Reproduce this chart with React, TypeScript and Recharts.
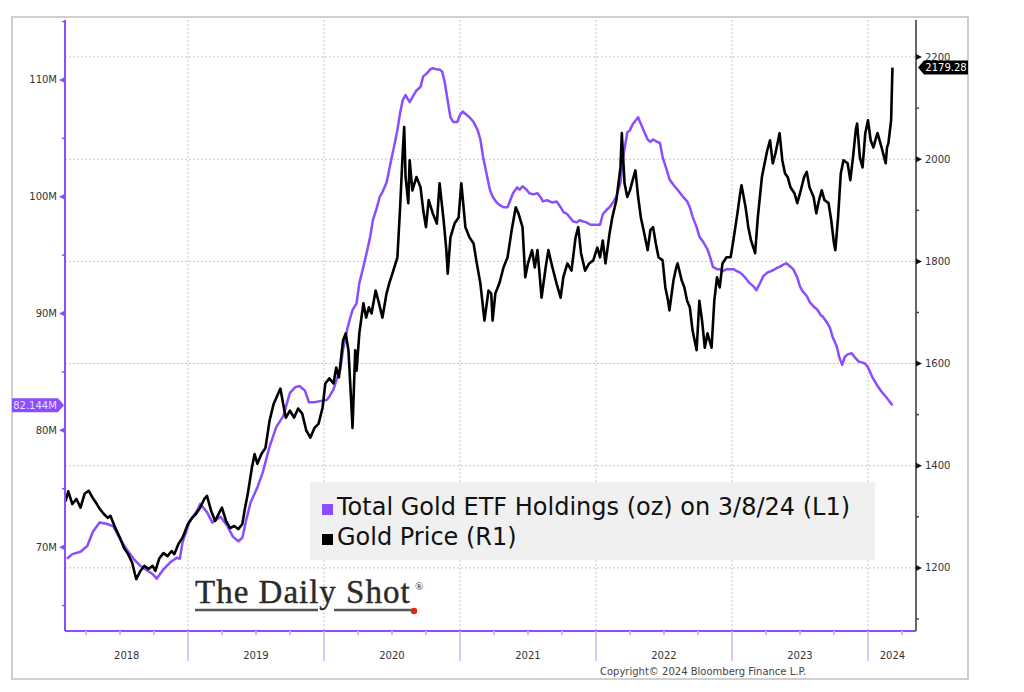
import { LineChart, Line, XAxis, YAxis, CartesianGrid, Legend } from 'recharts';

const PURPLE = '#8a4dff';
const PURPLE_LIGHT = '#c9b3ff';
const INK = '#333';
const FONT = '"DejaVu Sans", Verdana, sans-serif';

// Gold price (R1), USD/oz, time as decimal year
const goldT = [
  2018.10, 2018.12, 2018.15, 2018.18, 2018.21, 2018.24, 2018.27, 2018.30, 2018.33, 2018.35,
  2018.38, 2018.41, 2018.43, 2018.46, 2018.50, 2018.53, 2018.56, 2018.59, 2018.61, 2018.62,
  2018.65, 2018.68, 2018.71, 2018.74, 2018.76, 2018.79, 2018.82, 2018.85, 2018.88, 2018.90,
  2018.93, 2018.96, 2019.00, 2019.03, 2019.06, 2019.09, 2019.12, 2019.14, 2019.17, 2019.20,
  2019.23, 2019.25, 2019.28, 2019.31, 2019.34, 2019.37, 2019.40, 2019.42, 2019.44, 2019.47,
  2019.49, 2019.51, 2019.54, 2019.57, 2019.60, 2019.63, 2019.65, 2019.68, 2019.70, 2019.72,
  2019.75, 2019.78, 2019.81, 2019.84, 2019.87, 2019.90, 2019.93, 2019.96, 2019.99, 2020.01,
  2020.04, 2020.07, 2020.09, 2020.11, 2020.14, 2020.16, 2020.18, 2020.20, 2020.21, 2020.23,
  2020.24, 2020.26, 2020.29, 2020.31, 2020.33, 2020.35, 2020.38, 2020.40, 2020.43, 2020.46,
  2020.48, 2020.51, 2020.54, 2020.56, 2020.58, 2020.59, 2020.60, 2020.62, 2020.63, 2020.65,
  2020.68, 2020.71, 2020.73, 2020.75, 2020.77, 2020.80, 2020.83, 2020.85, 2020.88, 2020.90,
  2020.91, 2020.93, 2020.96, 2020.99, 2021.01, 2021.04, 2021.07, 2021.10, 2021.12, 2021.15,
  2021.18, 2021.21, 2021.23, 2021.24, 2021.26, 2021.29, 2021.32, 2021.35, 2021.38, 2021.41,
  2021.43, 2021.46, 2021.48, 2021.50, 2021.53, 2021.55, 2021.57, 2021.60, 2021.63, 2021.65,
  2021.68, 2021.71, 2021.74, 2021.76, 2021.79, 2021.82, 2021.85, 2021.87, 2021.89, 2021.92,
  2021.95, 2021.98, 2022.01, 2022.03, 2022.05, 2022.07, 2022.10, 2022.12, 2022.15, 2022.18,
  2022.19, 2022.21, 2022.23, 2022.25, 2022.27, 2022.29, 2022.31, 2022.33, 2022.35, 2022.38,
  2022.40, 2022.42, 2022.44, 2022.46, 2022.49, 2022.51, 2022.53, 2022.54, 2022.57, 2022.59,
  2022.60, 2022.63, 2022.65, 2022.67, 2022.69, 2022.71, 2022.74, 2022.76, 2022.78, 2022.80,
  2022.82, 2022.85, 2022.87, 2022.89, 2022.91, 2022.93, 2022.96, 2022.99, 2023.01, 2023.04,
  2023.06, 2023.07, 2023.10, 2023.12, 2023.14, 2023.17, 2023.19, 2023.22, 2023.24, 2023.26,
  2023.28, 2023.30, 2023.32, 2023.35, 2023.37, 2023.39, 2023.41, 2023.43, 2023.46, 2023.48,
  2023.50, 2023.53, 2023.55, 2023.57, 2023.60, 2023.62, 2023.64, 2023.66, 2023.68, 2023.71,
  2023.73, 2023.75, 2023.76, 2023.78, 2023.80, 2023.82, 2023.85, 2023.87, 2023.89, 2023.91,
  2023.92, 2023.94, 2023.96, 2023.98, 2024.00, 2024.02, 2024.04, 2024.06, 2024.07, 2024.10,
  2024.13, 2024.14, 2024.15, 2024.17, 2024.18,
];
const goldPx = [
  1330, 1350, 1325, 1335, 1318, 1345, 1351, 1337, 1325, 1316,
  1306, 1298, 1302, 1282, 1259, 1239, 1227, 1210, 1188, 1178,
  1194, 1204, 1198, 1204, 1194, 1219, 1229, 1223, 1233, 1227,
  1247, 1259, 1286, 1298, 1306, 1318, 1335, 1341, 1312, 1292,
  1308, 1318, 1292, 1278, 1282, 1276, 1286, 1318, 1345, 1396,
  1423, 1404, 1423, 1435, 1488, 1521, 1533, 1551, 1521, 1494,
  1508, 1494, 1512, 1502, 1469, 1455, 1474, 1482, 1514, 1561,
  1571, 1561, 1592, 1573, 1645, 1659, 1626, 1527, 1474, 1626,
  1586, 1659, 1718, 1690, 1710, 1698, 1743, 1723, 1690, 1737,
  1757, 1782, 1808, 1906, 2018, 2063, 1965, 1914, 1998, 1939,
  1965, 1945, 1900, 1867, 1920, 1894, 1874, 1953, 1880, 1822,
  1776, 1847, 1874, 1886, 1953, 1867, 1847, 1835, 1802, 1757,
  1684, 1743, 1737, 1684, 1737, 1757, 1788, 1808, 1861, 1906,
  1894, 1867, 1769, 1796, 1822, 1788, 1822, 1729, 1788, 1822,
  1788, 1757, 1729, 1769, 1796, 1782, 1847, 1867, 1816, 1782,
  1796, 1802, 1827, 1808, 1841, 1796, 1855, 1886, 1920, 1984,
  2051, 1953, 1926, 1939, 1959, 1978, 1926, 1886, 1861, 1822,
  1861, 1867, 1835, 1808, 1802, 1749, 1723, 1704, 1763, 1788,
  1796, 1763, 1749, 1723, 1710, 1665, 1626, 1723, 1684, 1631,
  1659, 1631, 1723, 1769, 1749, 1796, 1808, 1808, 1841, 1894,
  1933, 1949, 1906, 1867, 1841, 1816, 1886, 1965, 1992, 2018,
  2037, 1992, 2012, 2051, 1998, 1972, 1965, 1945, 1933, 1914,
  1933, 1965, 1975, 1945, 1926, 1894, 1920, 1939, 1920, 1914,
  1880, 1835, 1822, 1886, 1972, 1998, 1992, 1959, 2004, 2057,
  2070, 2004, 1984, 2051, 2076, 2037, 2023, 2043, 2051, 2023,
  1992, 2023, 2031, 2076, 2179.28,
];

// Total Gold ETF Holdings (L1), millions of oz
const etfT = [
  2018.11, 2018.15, 2018.21, 2018.26, 2018.30, 2018.35, 2018.40, 2018.45, 2018.50, 2018.55,
  2018.60, 2018.65, 2018.70, 2018.74, 2018.77, 2018.82, 2018.87, 2018.92, 2018.94, 2018.96,
  2019.01, 2019.07, 2019.09, 2019.14, 2019.18, 2019.24, 2019.29, 2019.33, 2019.37, 2019.40,
  2019.43, 2019.46, 2019.51, 2019.55, 2019.60, 2019.65, 2019.70, 2019.75, 2019.79, 2019.82,
  2019.86, 2019.89, 2019.93, 2019.97, 2020.02, 2020.04, 2020.07, 2020.10, 2020.12, 2020.14,
  2020.17, 2020.19, 2020.21, 2020.24, 2020.26, 2020.29, 2020.32, 2020.34, 2020.36, 2020.39,
  2020.41, 2020.43, 2020.46, 2020.49, 2020.51, 2020.54, 2020.56, 2020.58, 2020.60, 2020.63,
  2020.65, 2020.68, 2020.71, 2020.73, 2020.76, 2020.78, 2020.80, 2020.83, 2020.85, 2020.87,
  2020.89, 2020.90, 2020.93, 2020.95, 2020.98, 2021.00, 2021.02, 2021.05, 2021.07, 2021.10,
  2021.13, 2021.15, 2021.17, 2021.20, 2021.22, 2021.24, 2021.27, 2021.29, 2021.32, 2021.35,
  2021.37, 2021.39, 2021.42, 2021.44, 2021.46, 2021.49, 2021.51, 2021.54, 2021.57, 2021.59,
  2021.61, 2021.64, 2021.66, 2021.68, 2021.71, 2021.74, 2021.76, 2021.79, 2021.81, 2021.83,
  2021.86, 2021.88, 2021.90, 2021.93, 2021.96, 2021.98, 2022.01, 2022.03, 2022.05, 2022.08,
  2022.10, 2022.13, 2022.15, 2022.18, 2022.20, 2022.23, 2022.25, 2022.27, 2022.31, 2022.32,
  2022.35, 2022.38, 2022.40, 2022.42, 2022.45, 2022.47, 2022.49, 2022.52, 2022.54, 2022.57,
  2022.60, 2022.62, 2022.64, 2022.67, 2022.69, 2022.71, 2022.74, 2022.76, 2022.79, 2022.82,
  2022.84, 2022.86, 2022.89, 2022.91, 2022.93, 2022.96, 2022.99, 2023.01, 2023.04, 2023.06,
  2023.08, 2023.11, 2023.13, 2023.16, 2023.18, 2023.21, 2023.23, 2023.26, 2023.28, 2023.30,
  2023.33, 2023.35, 2023.38, 2023.40, 2023.43, 2023.45, 2023.48, 2023.50, 2023.52, 2023.55,
  2023.57, 2023.60, 2023.63, 2023.65, 2023.67, 2023.70, 2023.72, 2023.74, 2023.77, 2023.79,
  2023.81, 2023.83, 2023.85, 2023.88, 2023.90, 2023.93, 2023.96, 2023.98, 2024.00, 2024.03,
  2024.05, 2024.07, 2024.10, 2024.13, 2024.15, 2024.18,
];
const etfOz = [
  69.0, 69.4, 69.6, 70.1, 71.3, 72.1, 72.0, 71.8, 70.7, 69.8,
  69.0, 68.4, 68.0, 67.7, 67.3, 68.1, 68.7, 69.1, 69.0, 70.4,
  72.1, 73.2, 73.7, 73.0, 72.1, 72.6, 71.8, 70.9, 70.5, 70.8,
  72.4, 73.8, 75.1, 76.4, 78.6, 80.3, 81.2, 83.2, 83.7, 83.8,
  83.4, 82.4, 82.4, 82.5, 82.6, 82.9, 83.5, 84.6, 85.2, 86.9,
  88.6, 89.5, 90.3, 90.9, 92.6, 94.0, 95.5, 96.6, 98.0, 99.1,
  100.0, 100.4, 101.2, 102.9, 104.0, 105.7, 107.2, 108.3, 108.7, 108.1,
  108.5, 109.1, 109.4, 110.3, 110.6, 110.9, 111.0, 110.9, 110.9, 110.7,
  109.7, 108.9, 106.8, 106.4, 106.4, 107.0, 107.3, 107.0, 106.8, 106.4,
  105.7, 104.9, 103.4, 101.7, 100.6, 100.0, 99.5, 99.3, 99.1, 99.1,
  99.7, 100.3, 100.8, 100.6, 100.9, 100.6, 100.3, 100.2, 100.3, 100.0,
  99.6, 99.7, 99.6, 99.5, 99.6, 99.1, 98.7, 98.5, 98.2, 97.9,
  97.8, 98.0, 97.9, 97.8, 97.6, 97.6, 97.6, 97.6, 98.5, 98.9,
  99.1, 99.6, 100.0, 101.2, 103.4, 105.5, 105.7, 106.2, 106.8, 106.5,
  105.7, 104.9, 104.7, 104.9, 104.7, 104.6, 103.4, 102.3, 101.5, 101.0,
  100.6, 100.3, 100.0, 99.6, 99.1, 98.3, 97.4, 96.6, 96.1, 95.5,
  94.8, 94.0, 93.8, 93.8, 93.6, 93.8, 93.8, 93.8, 93.6, 93.5,
  93.3, 92.9, 92.6, 92.3, 92.0, 92.7, 93.2, 93.5, 93.6, 93.7,
  93.9, 94.0, 94.2, 94.3, 94.0, 93.8, 93.1, 92.3, 91.9, 91.5,
  91.0, 90.6, 90.3, 89.9, 89.7, 89.2, 88.8, 88.0, 87.2, 86.2,
  85.6, 86.3, 86.5, 86.6, 86.3, 85.9, 85.8, 85.7, 85.4, 84.6,
  84.2, 83.8, 83.3, 82.9, 82.6, 82.144,
];

const yearStarts = [2019, 2020, 2021, 2022, 2023, 2024];
const yearLabels = ['2018', '2019', '2020', '2021', '2022', '2023', '2024'];
const yearLabelAt = [2018.55, 2019.5, 2020.5, 2021.5, 2022.5, 2023.5, 2024.18];
const quarterTicks = [
  2018.25, 2018.5, 2018.75, 2019.25, 2019.5, 2019.75, 2020.25, 2020.5, 2020.75,
  2021.25, 2021.5, 2021.75, 2022.25, 2022.5, 2022.75, 2023.25, 2023.5, 2023.75, 2024.25,
];
const leftMajor = [70, 80, 90, 100, 110];
const leftMinor = [65, 75, 85, 95, 105, 115];
const rightMajor = [1200, 1400, 1600, 1800, 2000, 2200];
const rightMinor = [1100, 1300, 1500, 1700, 1900, 2100];

const goldData = goldT.map((t, i) => ({ t, price: goldPx[i] }));
const etfData = etfT.map((t, i) => ({ t, oz: etfOz[i] }));
const lastGold = goldPx[goldPx.length - 1];
const lastEtf = etfOz[etfOz.length - 1];

const xTicks = Array.from(new Set([...yearStarts, ...yearLabelAt, ...quarterTicks])).sort((a, b) => a - b);
const leftTicks = [...leftMinor, ...leftMajor, lastEtf];
const rightTicks = [...rightMinor, ...rightMajor, lastGold];

function XTick({ x, y, payload }: any) {
  const v = payload.value;
  const li = yearLabelAt.indexOf(v);
  return (
    <g>
      {yearStarts.includes(v) && <line x1={x} x2={x} y1={y} y2={y + 30} stroke={PURPLE_LIGHT} strokeWidth={1.5} />}
      {quarterTicks.includes(v) && <line x1={x} x2={x} y1={y} y2={y + 4} stroke={PURPLE_LIGHT} strokeWidth={2} />}
      {li >= 0 && (
        <text x={x} y={y + 28} textAnchor="middle" fontFamily={FONT} fontSize={10} fill={INK}>
          {yearLabels[li]}
        </text>
      )}
    </g>
  );
}

function LeftTick({ x, y, payload }: any) {
  const v = payload.value;
  if (v === lastEtf) {
    return (
      <g>
        <polygon points={`${x - 53},${y - 7} ${x - 7},${y - 7} ${x - 1},${y} ${x - 7},${y + 7} ${x - 53},${y + 7}`} fill={PURPLE} />
        <text x={x - 30} y={y + 3.5} textAnchor="middle" fontFamily={FONT} fontSize={10} fill="#e9e0ff">
          {`${lastEtf.toFixed(3)}M`}
        </text>
      </g>
    );
  }
  if (leftMajor.includes(v)) {
    return (
      <g>
        <polygon points={`${x},${y - 3} ${x},${y + 3} ${x - 6},${y}`} fill={PURPLE} />
        <text x={x - 8} y={y + 3.5} textAnchor="end" fontFamily={FONT} fontSize={10} fill={INK}>
          {`${v}M`}
        </text>
      </g>
    );
  }
  return <line x1={x - 3} x2={x} y1={y} y2={y} stroke={PURPLE} strokeWidth={1.5} />;
}

function RightTick({ x, y, payload }: any) {
  const v = payload.value;
  if (v === lastGold) {
    return (
      <g>
        <polygon points={`${x + 2},${y} ${x + 8},${y - 7} ${x + 52},${y - 7} ${x + 52},${y + 7} ${x + 8},${y + 7}`} fill="#000" />
        <text x={x + 30} y={y + 3.5} textAnchor="middle" fontFamily={FONT} fontSize={10} fill="#fff">
          {lastGold.toFixed(2)}
        </text>
      </g>
    );
  }
  if (rightMajor.includes(v)) {
    return (
      <g>
        <polygon points={`${x},${y - 3} ${x},${y + 3} ${x + 6},${y}`} fill="#111" />
        <text x={x + 9} y={y + 3.5} textAnchor="start" fontFamily={FONT} fontSize={10} fill={INK}>
          {v}
        </text>
      </g>
    );
  }
  return <line x1={x} x2={x + 3} y1={y} y2={y} stroke="#444" strokeWidth={1.5} />;
}

function LegendBox() {
  const sq = (c: string) => (
    <span style={{ display: 'inline-block', width: 11, height: 11, background: c, marginRight: 4 }} />
  );
  return (
    <div
      style={{
        background: '#f0f0f0',
        width: 565,
        height: 78,
        boxSizing: 'border-box',
        padding: '10px 0 0 12px',
        fontFamily: FONT,
        fontSize: 24,
        lineHeight: '30px',
        color: '#111',
        textAlign: 'left',
        whiteSpace: 'nowrap',
      }}
    >
      <div>{sq(PURPLE)}Total Gold ETF Holdings (oz) on 3/8/24 (L1)</div>
      <div>{sq('#000')}Gold Price (R1)</div>
    </div>
  );
}

export default function App() {
  return (
    <div style={{ position: 'absolute', left: 0, top: 0, width: 1024, height: 692, background: '#fff' }}>
      <div
        style={{
          position: 'absolute',
          left: 11,
          top: 16,
          width: 958,
          height: 664,
          border: '2px solid #cfcfcf',
          boxSizing: 'border-box',
        }}
      />
      <div style={{ position: 'absolute', left: 0, top: 0 }}>
        <LineChart width={1024} height={692} margin={{ top: 20, right: 48, bottom: 21, left: 10 }}>
          <CartesianGrid
            xAxisId="x"
            yAxisId="right"
            stroke="#c4c4c4"
            strokeDasharray="2 2"
            verticalValues={yearStarts}
            horizontalValues={rightMajor}
          />
          <XAxis
            xAxisId="x"
            dataKey="t"
            type="number"
            domain={[2018.096, 2024.353]}
            allowDataOverflow
            ticks={xTicks}
            interval={0}
            tickSize={0}
            tickMargin={0}
            tickLine={false}
            height={40}
            axisLine={{ stroke: PURPLE, strokeWidth: 2 }}
            tick={(p: any) => <XTick {...p} />}
          />
          <YAxis
            yAxisId="left"
            type="number"
            domain={[62.82, 115.13]}
            allowDataOverflow
            ticks={leftTicks}
            interval={0}
            width={55}
            tickSize={0}
            tickMargin={0}
            tickLine={false}
            axisLine={{ stroke: PURPLE, strokeWidth: 2 }}
            tick={(p: any) => <LeftTick {...p} />}
          />
          <YAxis
            yAxisId="right"
            orientation="right"
            type="number"
            domain={[1076.5, 2272.5]}
            allowDataOverflow
            ticks={rightTicks}
            interval={0}
            width={60}
            tickSize={0}
            tickMargin={0}
            tickLine={false}
            axisLine={{ stroke: '#666', strokeWidth: 2 }}
            tick={(p: any) => <RightTick {...p} />}
          />
          <Line
            xAxisId="x"
            yAxisId="left"
            data={etfData}
            dataKey="oz"
            type="linear"
            stroke={PURPLE}
            strokeWidth={2.5}
            dot={false}
            strokeLinejoin="round"
            isAnimationActive={false}
          />
          <Line
            xAxisId="x"
            yAxisId="right"
            data={goldData}
            dataKey="price"
            type="linear"
            stroke="#000"
            strokeWidth={2.6}
            dot={false}
            strokeLinejoin="round"
            isAnimationActive={false}
          />
          <Legend
            layout="horizontal"
            verticalAlign="middle"
            align="center"
            content={() => <LegendBox />}
            wrapperStyle={{ left: 310, top: 482, width: 565, height: 78 }}
          />
        </LineChart>
      </div>
      <svg width={1024} height={692} style={{ position: 'absolute', left: 0, top: 0, pointerEvents: 'none' }}>
        <text
          x={195}
          y={603}
          fontFamily='"Liberation Serif", "Times New Roman", serif'
          fontSize={33}
          letterSpacing={1}
          stroke="#2a2a2a"
          strokeWidth={0.4}
          fill="#2a2a2a"
        >
          The Daily Shot
        </text>
        <text x={415} y={590} fontFamily='"Liberation Serif", serif' fontSize={11} fill="#2a2a2a">
          ®
        </text>
        <line x1={195} x2={318} y1={610} y2={610} stroke="#555" strokeWidth={2.5} />
        <line x1={334} x2={412} y1={610} y2={610} stroke="#555" strokeWidth={2.5} />
        <circle cx={414} cy={611} r={3.2} fill="#e0241b" />
        <text x={600} y={675} fontFamily={FONT} fontSize={10} fill="#444">
          Copyright© 2024 Bloomberg Finance L.P.
        </text>
      </svg>
    </div>
  );
}
